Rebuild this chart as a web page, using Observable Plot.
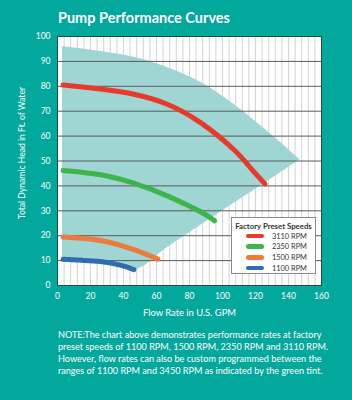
<!DOCTYPE html>
<html><head><meta charset="utf-8">
<script src="https://cdn.jsdelivr.net/npm/d3@7"></script>
<script src="https://cdn.jsdelivr.net/npm/@observablehq/plot@0.6"></script>
<style>
body{margin:0;background:#03a89c;width:352px;height:400px;overflow:hidden;font-family:Lato,"Open Sans",sans-serif;position:relative}
#title{position:absolute;left:58px;top:9px;color:#fff;font-weight:700;font-size:14.5px;line-height:17px;white-space:nowrap}
#chart{position:absolute;left:0;top:30px}
#legend{position:absolute;left:231px;top:217px;width:83px;height:55px;background:#fff;border:1px solid #8c8c8c}
#legend .lt{position:absolute;left:0;width:83px;top:3px;text-align:center;font-weight:700;font-size:7.8px;color:#333;white-space:nowrap}
#legend .sw{position:absolute;left:14px;width:18px;height:4.5px;border-radius:3px}
#legend .lb{position:absolute;left:40px;font-size:7.4px;color:#333;line-height:9px;white-space:nowrap}
#note{position:absolute;left:58px;top:329px;color:#fff;font-size:9.1px;line-height:12px;white-space:nowrap}
</style></head>
<body>
<div id="title">Pump Performance Curves</div>
<div id="chart"></div>
<div id="legend"></div>
<div id="note">NOTE:The chart above demonstrates performance rates at factory<br>preset speeds of 1100 RPM, 1500 RPM, 2350 RPM and 3110 RPM.<br>However, flow rates can also be custom programmed between the<br>ranges of 1100 RPM and 3450 RPM as indicated by the green tint.</div>
<script>
// ---- data ----
const xTicks = [0, 20, 40, 60, 80, 100, 120, 140, 160];
const yTicks = [0, 10, 20, 30, 40, 50, 60, 70, 80, 90, 100];
const minorX = [4,8,12,16,20,24,28,32,36,40,44,48,52,56,60,64,68,72,76,80,84,88,92,96,100,104,108,112,116,120,124,128,132,136,140,144,148,152,156];

const seriesNames = ["3110 RPM", "2350 RPM", "1500 RPM", "1100 RPM"];
const seriesColors = ["#e8392b", "#3cb54a", "#ef7b3b", "#2e6cb6"];

const rpm3110X = [3.4, 26, 46.3, 66.5, 86.7, 106.8, 117.9, 125.8];
const rpm3110Y = [80.5, 78.9, 76.8, 72.8, 65.4, 54.6, 46.5, 40.8];
const rpm2350X = [3.4, 26, 46.3, 66.5, 86.7, 95.2];
const rpm2350Y = [46.2, 44.5, 41.1, 36, 29.6, 26];
const rpm1500X = [3.4, 26, 46.3, 60.8];
const rpm1500Y = [19.5, 18.1, 14.4, 10.6];
const rpm1100X = [3.4, 15, 26, 38, 46.3];
const rpm1100Y = [10.5, 10.1, 9.6, 8.2, 6.4];

// green tint (custom programmable range)
const tintX = [3, 15, 26, 38, 46.3, 66.5, 86.7, 106.8, 127, 146.9];
const tintTop = [96, 95, 94, 92.8, 91.7, 87.6, 81.6, 72.8, 62, 50.5];
const tintBottom = [10.5, 10.1, 9.6, 8.2, 6.4, 15.2, 24.1, 32.9, 41.7, 50.5];

const xLabel = "Flow Rate in U.S. GPM";
const yLabel = "Total Dynamic Head in Ft. of Water";
const legendTitle = "Factory Preset Speeds";

// ---- build ----
const seriesX = [rpm3110X, rpm2350X, rpm1500X, rpm1100X];
const seriesY = [rpm3110Y, rpm2350Y, rpm1500Y, rpm1100Y];
const curves = [];
seriesNames.forEach((s, i) => seriesX[i].forEach((x, j) => curves.push({series: s, x, y: seriesY[i][j]})));
const tint = tintX.map((x, i) => ({x, lo: tintBottom[i], hi: tintTop[i]}));

const chart = Plot.plot({
  width: 352, height: 290,
  marginLeft: 57, marginRight: 31, marginTop: 6, marginBottom: 35,
  x: {domain: [0, 160]},
  y: {domain: [0, 100]},
  color: {domain: seriesNames, range: seriesColors},
  style: {background: "transparent", color: "#fff", fontFamily: "Lato, sans-serif", fontSize: "8.5px"},
  marks: [
    Plot.frame({fill: "#fff", stroke: null}),
    Plot.gridX(minorX, {stroke: "#c8c8c8", strokeOpacity: 1, strokeWidth: 0.8}),
    Plot.areaY(tint, {x: "x", y1: "lo", y2: "hi", fill: "#9fd5d2", curve: "monotone-x"}),
    Plot.gridY(yTicks.filter(v => v > 0 && v < 100), {stroke: "#5a5a5a", strokeOpacity: 1, strokeWidth: 1}),
    Plot.line(curves, {x: "x", y: "y", z: "series", stroke: "series", strokeWidth: 5, strokeLinecap: "round", curve: "natural"}),
    Plot.frame({stroke: "#1d4c57", strokeWidth: 1}),
    Plot.axisX(xTicks, {tickSize: 0, tickPadding: 7, label: null}),
    Plot.axisY(yTicks, {tickSize: 0, tickPadding: 7, label: null}),
    Plot.text([yLabel], {text: d => d, frameAnchor: "left", textAnchor: "middle", lineAnchor: "middle", dx: -35, dy: -8, rotate: -90, fill: "#fff", fontSize: 8.6}),
    Plot.text([xLabel], {text: d => d, frameAnchor: "bottom", textAnchor: "middle", lineAnchor: "middle", dy: 27, fill: "#fff", fontSize: 9.4})
  ]
});
document.getElementById("chart").append(chart);

// legend (HTML, over the svg)
const lg = document.getElementById("legend");
const t = document.createElement("div"); t.className = "lt"; t.textContent = legendTitle; lg.append(t);
const rows = [18, 28.7, 39.3, 50];
seriesNames.forEach((s, i) => {
  const sw = document.createElement("div"); sw.className = "sw";
  sw.style.background = seriesColors[i]; sw.style.top = (rows[i] - 2.25) + "px"; lg.append(sw);
  const lb = document.createElement("div"); lb.className = "lb";
  lb.style.top = (rows[i] - 4.5) + "px"; lb.textContent = s; lg.append(lb);
});
</script>
</body></html>
